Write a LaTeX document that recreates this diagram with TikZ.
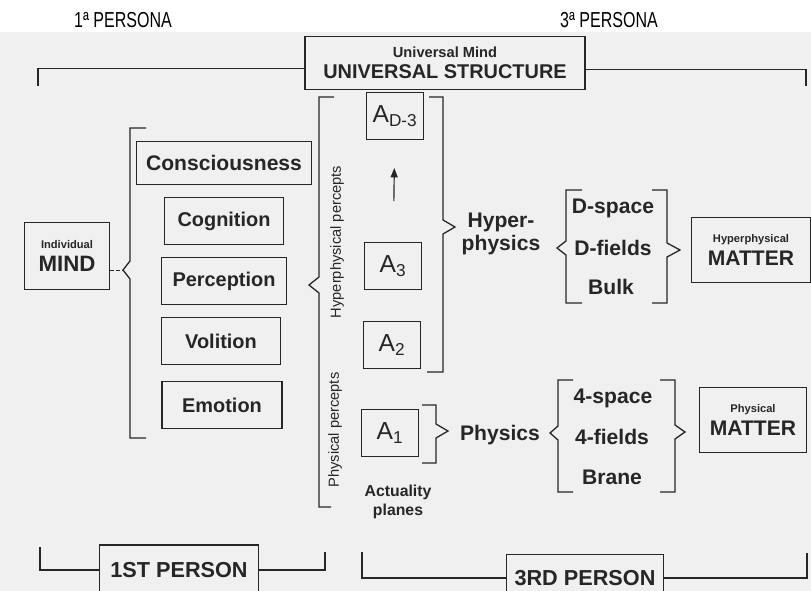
\documentclass[tikz,border=0pt]{standalone}
\usepackage{fontspec}
\setmainfont{Liberation Sans}
\usetikzlibrary{arrows.meta}

\begin{document}
\begin{tikzpicture}
   [x=0.03cm,y=-0.03cm,line width=1.1pt,draw=black!85,
    box/.style={draw=black!85,rectangle,inner sep=0pt,align=center,text=black!85,font=\bfseries\fontsize{17}{19}\selectfont},
    abox/.style={box,minimum width=1.7cm,minimum height=1.4cm,font=\fontsize{21}{23}\selectfont},
    lbl/.style={inner sep=0pt,align=center,text=black!85,font=\bfseries\fontsize{18}{20}\selectfont}]
  \useasboundingbox (0,0) rectangle (811,591);
  \clip (0,0) rectangle (811,591);
  \fill[black!6] (0,32) rectangle (811,591);

  % headings
  \node[font=\fontsize{18.5}{20}\selectfont,xscale=.74] (nPersA) at (123,20) {1ª PERSONA};
  \node[font=\fontsize{18.5}{20}\selectfont,xscale=.74] (nPersC) at (609,20) {3ª PERSONA};

  % top and bottom
  \node[box,minimum width=8.4cm,minimum height=1.6cm] (nUniv) at (445,63)
       {{\fontsize{12.5}{13}\selectfont Universal Mind}\\[-1pt]UNIVERSAL STRUCTURE};
  \node[box,minimum width=4.75cm,minimum height=1.5cm,font=\bfseries\fontsize{18.5}{20}\selectfont] (nFirst) at (179,570) {1ST PERSON};
  \node[box,minimum width=4.7cm,minimum height=1.4cm,font=\bfseries\fontsize{18.5}{20}\selectfont] (nThird) at (585,578) {3RD PERSON};

  \draw (38,86) |- ([yshift=-0.16cm]nUniv.west);
  \draw ([yshift=-0.2cm]nUniv.east) -| (806,86);
  \draw (40,547) |- (nFirst.west);
  \draw (nFirst.east) -| (325,552);
  \draw (362,552) |- (nThird.west);
  \draw (nThird.east) -| (807,553);

  % individual mind
  \node[box,minimum width=2.55cm,minimum height=2cm,font=\bfseries\fontsize{19}{20}\selectfont] (nMind) at (67,256)
       {{\fontsize{9.5}{10}\selectfont Individual}\\MIND};
  \node[box,minimum width=5.25cm,minimum height=1.3cm,font=\bfseries\fontsize{18}{20}\selectfont] (nConsc) at (224,163) {Consciousness};
  \node[box,minimum width=3.55cm,minimum height=1.4cm] (nCogn) at (224,221) {Cognition};
  \node[box,minimum width=3.75cm,minimum height=1.4cm] (nPerc) at (224,281) {Perception};
  \node[box,minimum width=3.55cm,minimum height=1.4cm] (nVoli) at (221,341) {Volition};
  \node[box,minimum width=3.6cm,minimum height=1.4cm] (nEmo) at (222,405) {Emotion};

  \coordinate (cMindTip) at (123,270);
  \draw[dashed,line width=.8pt,dash pattern=on 3pt off 2pt] (nMind.east |- cMindTip) -- (cMindTip);
  \draw (146,128) -- (130,128) -- (130,261) -- (cMindTip) -- (130,279) -- (130,438) -- (146,438);

  % percepts
  \draw (334,97) -- (319,97) -- (319,277) -- (309,285) -- (319,293) -- (319,507) -- (331,507);
  \node[rotate=90,inner sep=0pt,text=black!85,font=\fontsize{12.5}{12}\selectfont] (nHpp) at (337,242) {Hyperphysical percepts};
  \node[rotate=90,inner sep=0pt,text=black!85,font=\fontsize{12.5}{12}\selectfont] (nPpp) at (335,430) {Physical percepts};

  % actuality planes
  \node[abox] (nAd) at (395,116) {A\textsubscript{D-3}};
  \node[abox] (nAthree) at (393,266) {A\textsubscript{3}};
  \node[abox] (nAtwo) at (392,345) {A\textsubscript{2}};
  \node[abox] (nAone) at (390,433) {A\textsubscript{1}};
  \node[lbl,font=\bfseries\fontsize{13.5}{16}\selectfont] (nAct) at (398,502) {Actuality\\planes};
  \draw[line width=1pt,-{Triangle[length=8pt,width=6pt]},shorten <=1.23cm,shorten >=0.84cm] (nAthree) -- (nAd);

  \draw (429,97) -- (443,97) -- (443,220) -- (455,227) -- (443,234) -- (443,372) -- (427,372);
  \draw (422,405) -- (436,405) -- (436,424) -- (448,431) -- (436,438) -- (436,463) -- (422,463);

  \node[lbl] (nHyper) at (501,234) {Hyper-\\physics};
  \node[lbl] (nPhys) at (500,435) {Physics};

  % hyperphysical side
  \node[lbl] (nDspace) at (613,208) {D-space};
  \node[lbl] (nDfields) at (613,248) {D-fields};
  \node[lbl] (nBulk) at (611,287) {Bulk};
  \draw (582,190) -- (566,190) -- (566,241) -- (557,248) -- (566,255) -- (566,303) -- (582,303);
  \draw (652,190) -- (667,190) -- (667,243) -- (680,250) -- (667,257) -- (667,303) -- (652,303);
  \node[box,minimum width=3.55cm,minimum height=1.95cm,font=\bfseries\fontsize{18}{20}\selectfont] (nHmat) at (751,250)
       {{\fontsize{9.5}{10}\selectfont Hyperphysical}\\MATTER};

  % physical side
  \node[lbl] (nFspace) at (613,398) {4-space};
  \node[lbl] (nFfields) at (612,437) {4-fields};
  \node[lbl] (nBrane) at (612,477) {Brane};
  \draw (573,380) -- (558,380) -- (558,426) -- (550,433) -- (558,440) -- (558,492) -- (573,492);
  \draw (660,380) -- (675,380) -- (675,425) -- (685,432) -- (675,439) -- (675,492) -- (660,492);
  \node[box,minimum width=3.2cm,minimum height=1.95cm,font=\bfseries\fontsize{18}{20}\selectfont] (nPmat) at (753,420)
       {{\fontsize{9.5}{10}\selectfont Physical}\\MATTER};

\end{tikzpicture}
\end{document}
